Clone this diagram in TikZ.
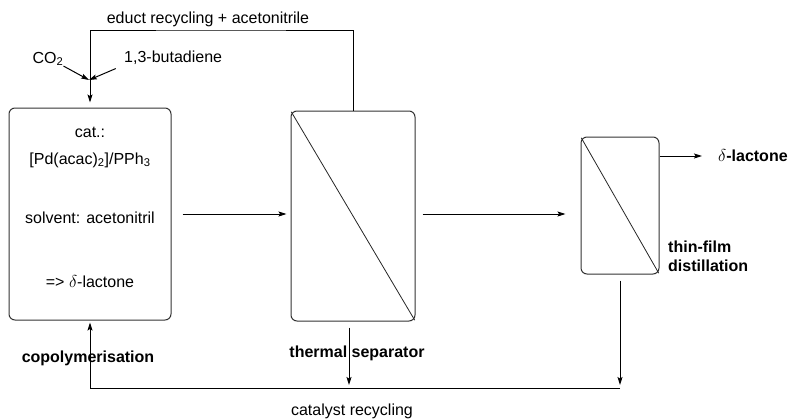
\documentclass[tikz,border=0pt]{standalone}
\usepackage{fontspec}
\setmainfont{Liberation Sans}
\usetikzlibrary{positioning,arrows.meta}
\tikzset{
  unit/.style={draw=black!80,line width=1pt,rounded corners=6pt,inner sep=0pt},
  diag/.style={draw=black!85,line width=0.8pt,shorten <=1.5pt,shorten >=1.5pt},
  lbl/.style={inner sep=0pt,font=\fontsize{16}{19}\selectfont},
  blbl/.style={inner sep=0pt,font=\fontsize{16}{19}\selectfont\bfseries},
  flow/.style={->,line width=1pt},
}

\begin{document}
\begin{tikzpicture}[x=1pt,y=-1pt,>={Stealth[length=8pt,width=5pt,inset=1.5pt]}]
  \useasboundingbox (0,0) rectangle (789,418);
  \node[unit,minimum width=162pt,minimum height=212pt] (reactor) at (90,214) {};
  \node[unit,minimum width=124pt,minimum height=210pt] (separator) at (353,216) {};
  \node[unit,minimum width=78pt,minimum height=137pt] (thinfilm) at (620,205.5) {};
  \draw[diag] (separator.north west) -- (separator.south east);
  \draw[diag] (thinfilm.north west) -- (thinfilm.south east);
  \node[lbl,align=center] (recipe) at (90,207)
    {cat.:\\[8pt]{}[Pd(acac)\textsubscript{2}]/PPh\textsubscript{3}\\[40pt]solvent: acetonitril\\[45pt]=> $\delta$-lactone};

  \node[lbl] (co2) at (48,59) {CO\textsubscript{2}};
  \node[lbl,anchor=west] (butadiene) at (124,58) {1,3-butadiene};
  \coordinate (mix) at (89,80);
  \coordinate (top) at (220,30);
  \node[lbl] (educt) at (208,19) {educt recycling + acetonitrile};
  \node[blbl,anchor=west] (lactone) at (718,156) {$\delta$-lactone};
  \node[blbl,align=left,anchor=west] (tfd) at (668,256) {thin-film\\distillation};
  \node[blbl] (copo) at (88,358) {copolymerisation};
  \node[blbl] (thermal) at (357,353) {thermal separator};
  \coordinate (bot) at (350,388);
  \node[lbl] (catrec) at (352,411) {catalyst recycling};

  \draw[flow] (co2.south east) -- (mix);
  \draw[flow,shorten <=9pt] (butadiene.south west) -- (mix);
  \draw[flow,shorten >=5pt] (separator.north) |- (top) -| (reactor.north);
  \draw[flow,shorten <=11pt,shorten >=4pt] (reactor.east) -- (reactor.east -| separator.west);
  \draw[flow,shorten <=7pt,shorten >=15pt] ([yshift=2pt]separator.east) -- ([yshift=2pt]separator.east -| thinfilm.west);
  \draw[flow,shorten >=16pt] (thinfilm.east |- lactone.west) -- (lactone.west);
  \draw[flow,shorten <=6pt,shorten >=3pt] ([xshift=-4pt]separator.south) -- ([xshift=-4pt]separator.south |- bot);
  \draw[flow,shorten <=6pt,shorten >=3pt] (thinfilm.south) -- (thinfilm.south |- bot);
  \draw[flow,shorten >=2pt] (thinfilm.south |- bot) -- (bot -| reactor.south) -- (reactor.south);
\end{tikzpicture}
\end{document}
